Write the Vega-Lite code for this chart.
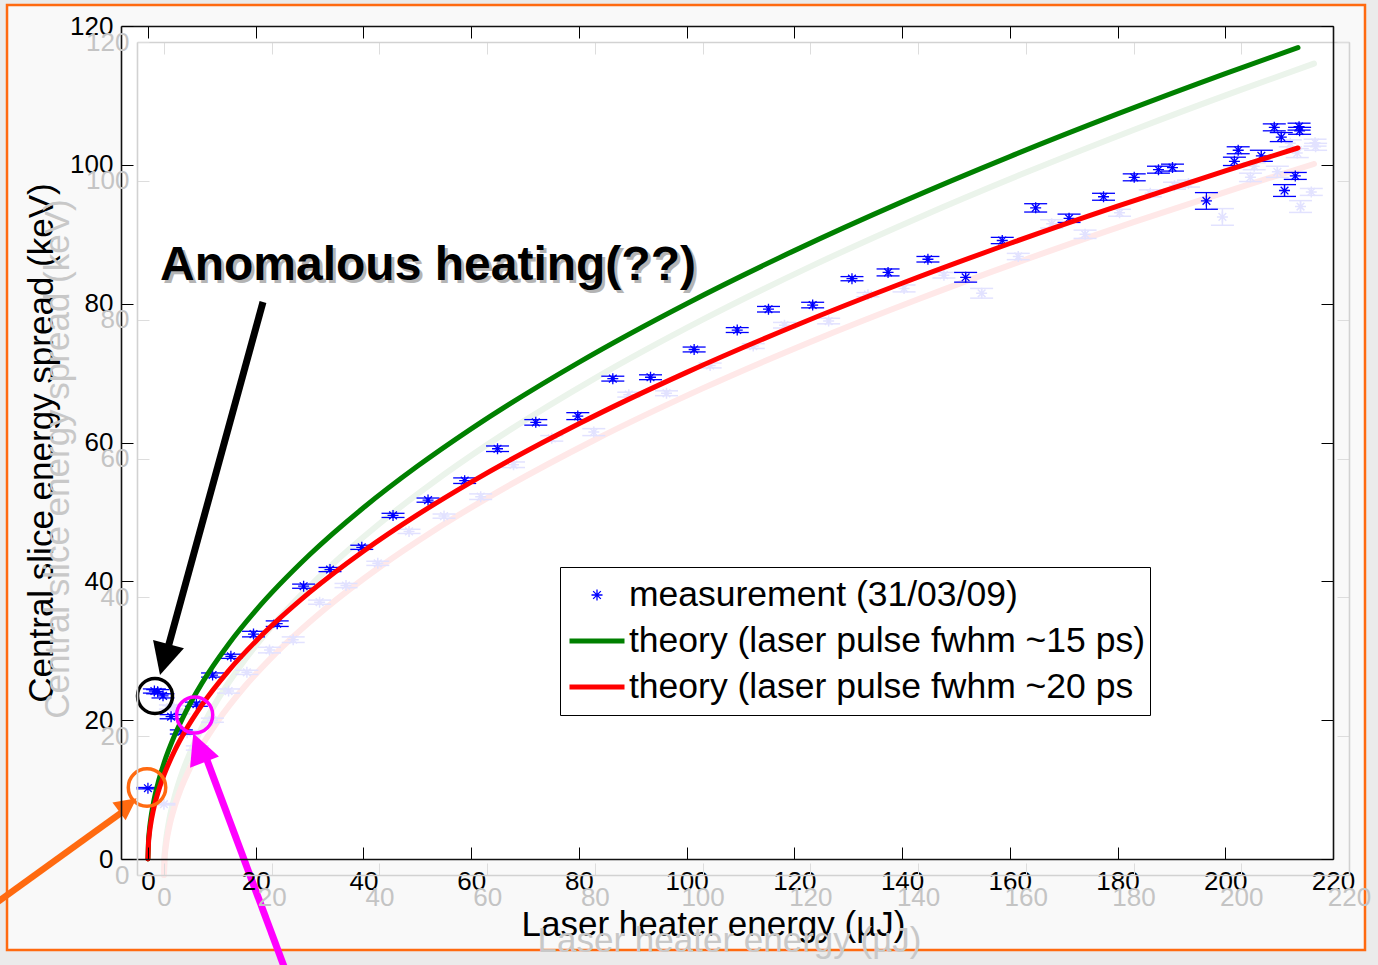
{
  "$schema": "https://vega.github.io/schema/vega-lite/v6.json",
  "width": 1212,
  "height": 833,
  "autosize": {"type": "none"},
  "padding": {"left": 121, "top": 26, "right": 45, "bottom": 106},
  "background": "#ebebeb",
  "config": {"view": {"stroke": null}, "font": "Liberation Sans",
    "legend": {"title": null, "orient": "none", "legendX": 439, "legendY": 541, "direction": "vertical",
      "padding": 5, "rowPadding": 0, "clipHeight": 46, "strokeColor": "#000000", "fillColor": "#ffffff",
      "labelFont": "Liberation Sans", "labelFontSize": 35.5, "labelColor": "#000000", "labelLimit": 1000, "labelOffset": 2,
      "symbolOffset": 2, "symbolOpacity": 1, "zindex": 2}},
  "datasets": {
    "meas": [
      {"s":"measurement (31/03/09)","x":0.0,"y":10.2,"lo":10.1,"hi":10.3},
      {"s":"measurement (31/03/09)","x":1.2,"y":24.2,"lo":23.9,"hi":24.5},
      {"s":"measurement (31/03/09)","x":1.8,"y":24.1,"lo":23.8,"hi":24.4},
      {"s":"measurement (31/03/09)","x":2.8,"y":23.5,"lo":23.2,"hi":23.8},
      {"s":"measurement (31/03/09)","x":4.3,"y":20.5,"lo":20.2,"hi":20.8},
      {"s":"measurement (31/03/09)","x":6.2,"y":18.3,"lo":18.0,"hi":18.6},
      {"s":"measurement (31/03/09)","x":9.0,"y":22.3,"lo":22.0,"hi":22.6},
      {"s":"measurement (31/03/09)","x":12.0,"y":26.5,"lo":26.2,"hi":26.8},
      {"s":"measurement (31/03/09)","x":15.4,"y":29.2,"lo":28.9,"hi":29.5},
      {"s":"measurement (31/03/09)","x":19.6,"y":32.4,"lo":32.0,"hi":32.8},
      {"s":"measurement (31/03/09)","x":24.0,"y":33.9,"lo":33.5,"hi":34.3},
      {"s":"measurement (31/03/09)","x":28.9,"y":39.3,"lo":39.0,"hi":39.6},
      {"s":"measurement (31/03/09)","x":33.8,"y":41.7,"lo":41.4,"hi":42.0},
      {"s":"measurement (31/03/09)","x":39.7,"y":44.9,"lo":44.6,"hi":45.2},
      {"s":"measurement (31/03/09)","x":45.5,"y":49.5,"lo":49.2,"hi":49.8},
      {"s":"measurement (31/03/09)","x":52.0,"y":51.7,"lo":51.4,"hi":52.0},
      {"s":"measurement (31/03/09)","x":58.8,"y":54.5,"lo":54.1,"hi":54.9},
      {"s":"measurement (31/03/09)","x":64.9,"y":59.1,"lo":58.7,"hi":59.5},
      {"s":"measurement (31/03/09)","x":72.0,"y":62.9,"lo":62.5,"hi":63.3},
      {"s":"measurement (31/03/09)","x":79.8,"y":63.8,"lo":63.3,"hi":64.3},
      {"s":"measurement (31/03/09)","x":86.3,"y":69.2,"lo":68.85,"hi":69.55},
      {"s":"measurement (31/03/09)","x":93.3,"y":69.4,"lo":69.05,"hi":69.75},
      {"s":"measurement (31/03/09)","x":101.4,"y":73.4,"lo":73.05,"hi":73.75},
      {"s":"measurement (31/03/09)","x":109.4,"y":76.2,"lo":75.85,"hi":76.55},
      {"s":"measurement (31/03/09)","x":115.2,"y":79.2,"lo":78.8,"hi":79.6},
      {"s":"measurement (31/03/09)","x":123.4,"y":79.8,"lo":79.4,"hi":80.2},
      {"s":"measurement (31/03/09)","x":130.7,"y":83.6,"lo":83.3,"hi":83.9},
      {"s":"measurement (31/03/09)","x":137.4,"y":84.5,"lo":84.0,"hi":85.0},
      {"s":"measurement (31/03/09)","x":144.8,"y":86.4,"lo":86.0,"hi":86.8},
      {"s":"measurement (31/03/09)","x":151.8,"y":83.8,"lo":83.1,"hi":84.5},
      {"s":"measurement (31/03/09)","x":158.6,"y":89.1,"lo":88.65,"hi":89.55},
      {"s":"measurement (31/03/09)","x":164.8,"y":93.8,"lo":93.2,"hi":94.4},
      {"s":"measurement (31/03/09)","x":171.0,"y":92.3,"lo":91.7,"hi":92.9},
      {"s":"measurement (31/03/09)","x":177.4,"y":95.4,"lo":94.9,"hi":95.9},
      {"s":"measurement (31/03/09)","x":183.1,"y":98.2,"lo":97.7,"hi":98.7},
      {"s":"measurement (31/03/09)","x":187.6,"y":99.3,"lo":98.8,"hi":99.8},
      {"s":"measurement (31/03/09)","x":190.2,"y":99.6,"lo":99.1,"hi":100.1},
      {"s":"measurement (31/03/09)","x":196.5,"y":94.8,"lo":93.6,"hi":96.0},
      {"s":"measurement (31/03/09)","x":201.7,"y":100.5,"lo":99.9,"hi":101.1},
      {"s":"measurement (31/03/09)","x":202.4,"y":102.1,"lo":101.6,"hi":102.6},
      {"s":"measurement (31/03/09)","x":206.7,"y":101.3,"lo":100.5,"hi":102.1},
      {"s":"measurement (31/03/09)","x":209.1,"y":105.4,"lo":104.9,"hi":105.9},
      {"s":"measurement (31/03/09)","x":210.4,"y":104.0,"lo":103.35,"hi":104.65},
      {"s":"measurement (31/03/09)","x":211.0,"y":96.3,"lo":95.45,"hi":97.15},
      {"s":"measurement (31/03/09)","x":213.0,"y":98.4,"lo":97.9,"hi":98.9},
      {"s":"measurement (31/03/09)","x":213.7,"y":105.5,"lo":105.0,"hi":106.0},
      {"s":"measurement (31/03/09)","x":213.8,"y":104.9,"lo":104.4,"hi":105.4}
    ],
    "theory": [
      {"x":0,"g":0,"r":0},
      {"x":0.1,"g":2.53,"r":2.22},
      {"x":0.25,"g":4.0,"r":3.5},
      {"x":0.5,"g":5.66,"r":4.96},
      {"x":1,"g":8.0,"r":7.01},
      {"x":2,"g":11.31,"r":9.91},
      {"x":3,"g":13.86,"r":12.14},
      {"x":5,"g":17.89,"r":15.67},
      {"x":7,"g":21.17,"r":18.55},
      {"x":10,"g":25.30,"r":22.17},
      {"x":15,"g":30.98,"r":27.15},
      {"x":20,"g":35.78,"r":31.35},
      {"x":30,"g":43.82,"r":38.40},
      {"x":40,"g":50.60,"r":44.34},
      {"x":50,"g":56.57,"r":49.57},
      {"x":60,"g":61.97,"r":54.30},
      {"x":80,"g":71.55,"r":62.70},
      {"x":100,"g":80.0,"r":70.1},
      {"x":120,"g":87.64,"r":76.79},
      {"x":140,"g":94.66,"r":82.94},
      {"x":160,"g":101.19,"r":88.67},
      {"x":180,"g":107.33,"r":94.05},
      {"x":200,"g":113.14,"r":99.14},
      {"x":213.5,"g":116.89,"r":102.43}
    ],
    "boxes": [
      {"kind":"frame","x":-26.16,"x2":225.94,"y":123.03,"y2":-13.11},
      {"kind":"plot","x":-5,"x2":220,"y":0,"y2":120}
    ],
    "circles": [
      {"id":"black","x":1.31,"y":23.48},
      {"id":"magenta","x":8.68,"y":20.74},
      {"id":"orange","x":-0.17,"y":10.30}
    ],
    "arrowlines": [
      {"id":"black","x":21.36,"y":80.24,"x2":3.35,"y2":29.39},
      {"id":"orange","x":-29.32,"y":-6.97,"x2":-3.70,"y2":7.35},
      {"id":"magenta","x":25.85,"y":-16.71,"x2":10.41,"y2":15.41}
    ],
    "arrowheads": [
      {"id":"black","x":2.24,"y":26.51},
      {"id":"orange","x":-2.09,"y":8.75},
      {"id":"magenta","x":8.42,"y":18.11}
    ],
    "labels": [
      {"text":"Anomalous heating(??)","x":2.24,"y":83.41}
    ]
  },
  "resolve": {"axis": {"x": "independent", "y": "independent"}},
  "encoding": {
    "x": {"field": "x", "type": "quantitative", "scale": {"domain": [-5, 220], "nice": false, "zero": false}, "axis": null},
    "y": {"field": "y", "type": "quantitative", "scale": {"domain": [0, 120], "nice": false, "zero": false}, "axis": null}
  },
  "layer": [
    {
      "data": {"name": "boxes"},
      "transform": [{"filter": "datum.kind === 'frame'"}],
      "mark": {"type": "rect", "fill": "#f9f9f9", "stroke": "#ff6a10", "strokeWidth": 2.5},
      "encoding": {"x2": {"field": "x2"}, "y2": {"field": "y2"}}
    },
    {
      "data": {"name": "boxes"},
      "transform": [{"filter": "datum.kind === 'plot'"}],
      "mark": {"type": "rect", "fill": "#ffffff"},
      "encoding": {
        "x": {"field": "x", "type": "quantitative", "scale": {"domain": [-5, 220], "nice": false, "zero": false},
          "axis": {"orient": "bottom", "values": [0,20,40,60,80,100,120,140,160,180,200,220], "format": "d", "grid": false,
            "tickSize": -12, "tickColor": "#000000", "tickWidth": 1, "domainColor": "#111111", "domainWidth": 1.6,
            "labelFont": "Liberation Sans", "labelFontSize": 26, "labelColor": "#000000", "labelPadding": 21, "labelFlush": false, "labelOverlap": false,
            "title": "Laser heater energy (µJ)", "titleFont": "Liberation Sans", "titleFontSize": 35, "titleFontWeight": "normal", "titleColor": "#000000",
            "titleX": 592, "titleY": 76, "titleBaseline": "alphabetic", "titleAlign": "center", "zindex": 1}},
        "y": {"field": "y", "type": "quantitative", "scale": {"domain": [0, 120], "nice": false, "zero": false},
          "axis": {"orient": "left", "values": [0,20,40,60,80,100,120], "format": "d", "grid": false,
            "tickSize": -12, "tickColor": "#000000", "tickWidth": 1, "domainColor": "#111111", "domainWidth": 1.6,
            "labelFont": "Liberation Sans", "labelFontSize": 26, "labelColor": "#000000", "labelPadding": 20, "labelFlush": false, "labelOverlap": false,
            "title": "Central slice energy spread (keV)", "titleFont": "Liberation Sans", "titleFontSize": 35, "titleFontWeight": "normal", "titleColor": "#000000",
            "titleAngle": 270, "titleX": -69, "titleY": 416.5, "titleBaseline": "alphabetic", "titleAlign": "center", "zindex": 1}},
        "x2": {"field": "x2"},
        "y2": {"field": "y2"}
      }
    },
    {
      "data": {"name": "theory"},
      "mark": {"type": "line", "color": "#ebf4eb", "strokeWidth": 6, "strokeCap": "round", "interpolate": "monotone", "xOffset": 16, "yOffset": 16},
      "encoding": {
        "x": {"field": "x", "type": "quantitative", "scale": {"domain": [-5, 220], "nice": false, "zero": false},
          "axis": {"orient": "top", "values": [0,20,40,60,80,100,120,140,160,180,200,220], "labels": false, "grid": false, "title": null,
            "tickSize": -12, "tickColor": "#dddddd", "domainColor": "#d2d2d2", "domainWidth": 1.6, "translate": 16.5, "zindex": 1}},
        "y": {"field": "g", "type": "quantitative", "scale": {"domain": [0, 120], "nice": false, "zero": false},
          "axis": {"orient": "right", "values": [0,20,40,60,80,100,120], "labels": false, "grid": false, "title": null,
            "tickSize": -12, "tickColor": "#dddddd", "domainColor": "#d2d2d2", "domainWidth": 1.6, "translate": 16.5, "zindex": 1}}
      }
    },
    {
      "data": {"name": "theory"},
      "mark": {"type": "line", "color": "#ffe8e8", "strokeWidth": 6, "strokeCap": "round", "interpolate": "monotone", "xOffset": 16, "yOffset": 16},
      "encoding": {
        "x": {"field": "x", "type": "quantitative", "scale": {"domain": [-5, 220], "nice": false, "zero": false},
          "axis": {"orient": "bottom", "values": [0,20,40,60,80,100,120,140,160,180,200,220], "format": "d", "grid": false,
            "tickSize": -12, "tickColor": "#dddddd", "domainColor": "#d2d2d2", "domainWidth": 1.6, "translate": 16.5,
            "labelFont": "Liberation Sans", "labelFontSize": 26, "labelColor": "#c4c4c4", "labelPadding": 21, "labelFlush": false, "labelOverlap": false,
            "title": "Laser heater energy (µJ)", "titleFont": "Liberation Sans", "titleFontSize": 35, "titleFontWeight": "normal", "titleColor": "#c8c8c8",
            "titleX": 592, "titleY": 76, "titleBaseline": "alphabetic", "titleAlign": "center", "zindex": 1}},
        "y": {"field": "r", "type": "quantitative", "scale": {"domain": [0, 120], "nice": false, "zero": false},
          "axis": {"orient": "left", "values": [0,20,40,60,80,100,120], "format": "d", "grid": false,
            "tickSize": -12, "tickColor": "#dddddd", "domainColor": "#d2d2d2", "domainWidth": 1.6, "translate": 16.5,
            "labelFont": "Liberation Sans", "labelFontSize": 26, "labelColor": "#c4c4c4", "labelPadding": 20, "labelFlush": false, "labelOverlap": false,
            "title": "Central slice energy spread (keV)", "titleFont": "Liberation Sans", "titleFontSize": 35, "titleFontWeight": "normal", "titleColor": "#c8c8c8",
            "titleAngle": 270, "titleX": -69, "titleY": 416.5, "titleBaseline": "alphabetic", "titleAlign": "center", "zindex": 1}}
      }
    },
    {
      "data": {"name": "meas"},
      "mark": {"type": "rule", "color": "#e2e2ff", "strokeWidth": 1.5, "xOffset": 16, "yOffset": 16, "y2Offset": 16},
      "encoding": {
        "y": {"field": "lo", "type": "quantitative", "scale": {"domain": [0, 120], "nice": false, "zero": false}, "axis": null},
        "y2": {"field": "hi"}
      }
    },
    {
      "data": {"name": "meas"},
      "mark": {"type": "point", "shape": "stroke", "size": 529, "filled": false, "color": "#e2e2ff", "strokeWidth": 1.5, "opacity": 1, "xOffset": 16, "yOffset": 16},
      "encoding": {"y": {"field": "lo", "type": "quantitative", "scale": {"domain": [0, 120], "nice": false, "zero": false}, "axis": null}}
    },
    {
      "data": {"name": "meas"},
      "mark": {"type": "point", "shape": "stroke", "size": 529, "filled": false, "color": "#e2e2ff", "strokeWidth": 1.5, "opacity": 1, "xOffset": 16, "yOffset": 16},
      "encoding": {"y": {"field": "hi", "type": "quantitative", "scale": {"domain": [0, 120], "nice": false, "zero": false}, "axis": null}}
    },
    {
      "data": {"name": "meas"},
      "mark": {"type": "point", "shape": "M-1,0L1,0M0,-1L0,1M-0.7,-0.7L0.7,0.7M-0.7,0.7L0.7,-0.7", "size": 121, "filled": false, "color": "#e2e2ff", "strokeWidth": 1.5, "opacity": 1, "xOffset": 16, "yOffset": 16}
    },
    {
      "data": {"name": "meas"},
      "mark": {"type": "rule", "color": "#0000ff", "strokeWidth": 1.2},
      "encoding": {
        "y": {"field": "lo", "type": "quantitative", "scale": {"domain": [0, 120], "nice": false, "zero": false}, "axis": null},
        "y2": {"field": "hi"}
      }
    },
    {
      "data": {"name": "meas"},
      "mark": {"type": "point", "shape": "stroke", "size": 529, "filled": false, "color": "#0000ff", "strokeWidth": 1.3, "opacity": 1},
      "encoding": {"y": {"field": "lo", "type": "quantitative", "scale": {"domain": [0, 120], "nice": false, "zero": false}, "axis": null}}
    },
    {
      "data": {"name": "meas"},
      "mark": {"type": "point", "shape": "stroke", "size": 529, "filled": false, "color": "#0000ff", "strokeWidth": 1.3, "opacity": 1},
      "encoding": {"y": {"field": "hi", "type": "quantitative", "scale": {"domain": [0, 120], "nice": false, "zero": false}, "axis": null}}
    },
    {
      "data": {"name": "meas"},
      "mark": {"type": "point", "filled": false, "opacity": 1},
      "encoding": {
        "color": {"field": "s", "type": "nominal",
          "scale": {"domain": ["measurement (31/03/09)", "theory (laser pulse fwhm ~15 ps)", "theory (laser pulse fwhm ~20 ps"], "range": ["#0000ff", "#008000", "#ff0000"]}},
        "shape": {"field": "s", "type": "nominal",
          "scale": {"domain": ["measurement (31/03/09)", "theory (laser pulse fwhm ~15 ps)", "theory (laser pulse fwhm ~20 ps"], "range": ["M-1,0L1,0M0,-1L0,1M-0.7,-0.7L0.7,0.7M-0.7,0.7L0.7,-0.7", "stroke", "stroke"]}},
        "size": {"field": "s", "type": "ordinal",
          "scale": {"type": "ordinal", "domain": ["measurement (31/03/09)", "theory (laser pulse fwhm ~15 ps)", "theory (laser pulse fwhm ~20 ps"], "range": [121, 3025, 3025]}},
        "strokeWidth": {"field": "s", "type": "ordinal",
          "scale": {"type": "ordinal", "domain": ["measurement (31/03/09)", "theory (laser pulse fwhm ~15 ps)", "theory (laser pulse fwhm ~20 ps"], "range": [1.3, 5, 5]}}
      }
    },
    {
      "data": {"name": "theory"},
      "mark": {"type": "line", "color": "#008000", "strokeWidth": 5, "strokeCap": "round", "interpolate": "monotone"},
      "encoding": {
        "x": {"field": "x", "type": "quantitative", "scale": {"domain": [-5, 220], "nice": false, "zero": false},
          "axis": {"orient": "top", "values": [0,20,40,60,80,100,120,140,160,180,200,220], "labels": false, "grid": false, "title": null,
            "tickSize": -12, "tickColor": "#000000", "domainColor": "#111111", "domainWidth": 1.6, "zindex": 1}},
        "y": {"field": "g", "type": "quantitative", "scale": {"domain": [0, 120], "nice": false, "zero": false},
          "axis": {"orient": "right", "values": [0,20,40,60,80,100,120], "labels": false, "grid": false, "title": null,
            "tickSize": -12, "tickColor": "#000000", "domainColor": "#111111", "domainWidth": 1.6, "zindex": 1}}
      }
    },
    {
      "data": {"name": "theory"},
      "mark": {"type": "line", "color": "#ff0000", "strokeWidth": 5, "strokeCap": "round", "interpolate": "monotone"},
      "encoding": {
        "y": {"field": "r", "type": "quantitative", "scale": {"domain": [0, 120], "nice": false, "zero": false}, "axis": null}
      }
    },
    {
      "data": {"name": "circles"},
      "transform": [{"filter": "datum.id === 'black'"}],
      "mark": {"type": "point", "shape": "circle", "filled": false, "color": "#000000", "strokeWidth": 3.5, "size": 1225, "opacity": 1}
    },
    {
      "data": {"name": "circles"},
      "transform": [{"filter": "datum.id === 'magenta'"}],
      "mark": {"type": "point", "shape": "circle", "filled": false, "color": "#ff00ff", "strokeWidth": 3.5, "size": 1300, "opacity": 1}
    },
    {
      "data": {"name": "circles"},
      "transform": [{"filter": "datum.id === 'orange'"}],
      "mark": {"type": "point", "shape": "circle", "filled": false, "color": "#ff6a10", "strokeWidth": 3.5, "size": 1400, "opacity": 1}
    },
    {
      "data": {"name": "arrowlines"},
      "transform": [{"filter": "datum.id === 'black'"}],
      "mark": {"type": "rule", "color": "#000000", "strokeWidth": 7},
      "encoding": {"x2": {"field": "x2"}, "y2": {"field": "y2"}}
    },
    {
      "data": {"name": "arrowlines"},
      "transform": [{"filter": "datum.id === 'orange'"}],
      "mark": {"type": "rule", "color": "#ff6a10", "strokeWidth": 6.5},
      "encoding": {"x2": {"field": "x2"}, "y2": {"field": "y2"}}
    },
    {
      "data": {"name": "arrowlines"},
      "transform": [{"filter": "datum.id === 'magenta'"}],
      "mark": {"type": "rule", "color": "#ff00ff", "strokeWidth": 7},
      "encoding": {"x2": {"field": "x2"}, "y2": {"field": "y2"}}
    },
    {
      "data": {"name": "arrowheads"},
      "transform": [{"filter": "datum.id === 'black'"}],
      "mark": {"type": "point", "shape": "M0,0L-1,2L1,2Z", "filled": true, "color": "#000000", "size": 1024, "angle": 195.4, "opacity": 1}
    },
    {
      "data": {"name": "arrowheads"},
      "transform": [{"filter": "datum.id === 'orange'"}],
      "mark": {"type": "point", "shape": "M0,0L-1,2L1,2Z", "filled": true, "color": "#ff6a10", "size": 484, "angle": 53.3, "opacity": 1}
    },
    {
      "data": {"name": "arrowheads"},
      "transform": [{"filter": "datum.id === 'magenta'"}],
      "mark": {"type": "point", "shape": "M0,0L-1,2L1,2Z", "filled": true, "color": "#ff00ff", "size": 961, "angle": 338.8, "opacity": 1}
    },
    {
      "data": {"name": "labels"},
      "mark": {"type": "text", "font": "Liberation Sans", "fontSize": 48, "fontWeight": "bold", "align": "left", "baseline": "alphabetic", "color": "#b4b4b4", "dx": 3, "dy": 3},
      "encoding": {"text": {"field": "text"}}
    },
    {
      "data": {"name": "labels"},
      "mark": {"type": "text", "font": "Liberation Sans", "fontSize": 48, "fontWeight": "bold", "align": "left", "baseline": "alphabetic", "color": "#000000"},
      "encoding": {"text": {"field": "text"}}
    }
  ]
}
